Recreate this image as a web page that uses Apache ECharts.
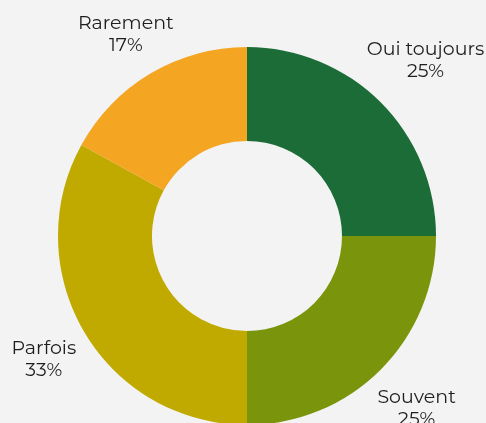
<!DOCTYPE html>
<html>
<head>
<meta charset="utf-8">
<script src="https://cdn.jsdelivr.net/npm/echarts@6/dist/echarts.min.js"></script>
<style>
  html, body { margin: 0; padding: 0; background: #f3f3f3; }
  #chart { width: 486px; height: 423px; }
</style>
</head>
<body>
<div id="chart"></div>
<script>
const categories = ['Oui toujours', 'Souvent', 'Parfois', 'Rarement'];
const values = [25, 25, 33, 17];
const colors = ['#1b6c37', '#7a940c', '#c0aa00', '#f4a521'];

const center = [247, 236];
const outerR = 189;
const labelGap = 8; // distance entre le bord du donut et le coin le plus proche du label
const fontFamily = 'Montserrat, "Noto Sans", sans-serif';
const fontSize = 19;
const lineHeight = 22;
const total = values.reduce((a, b) => a + b, 0);

// angle du milieu de chaque part, depuis midi, sens horaire
const midAngles = [];
let acc = 0;
values.forEach(v => {
  midAngles.push((acc + v / 2) / total * Math.PI * 2);
  acc += v;
});

// largeur réelle du texte (le label a une largeur fixe pour éviter la troncature)
const ctx = document.createElement('canvas').getContext('2d');
ctx.font = fontSize + 'px ' + fontFamily;
const textWidth = txt => Math.max(...txt.split('\n').map(l => ctx.measureText(l).width));

const chart = echarts.init(document.getElementById('chart'));

chart.setOption({
  backgroundColor: '#f3f3f3',
  series: [
    {
      type: 'pie',
      center: center,
      radius: [95, outerR],
      startAngle: 90,
      clockwise: true,
      percentPrecision: 0,
      data: categories.map((name, i) => ({
        name: name,
        value: values[i],
        itemStyle: { color: colors[i] }
      })),
      label: {
        show: true,
        position: 'outside',
        formatter: '{b}\n{d}%',
        fontFamily: fontFamily,
        fontSize: fontSize,
        lineHeight: lineHeight,
        width: 200,
        overflow: 'none',
        color: '#1e1e1e'
      },
      labelLine: { show: false },
      labelLayout: function (params) {
        const a = midAngles[params.dataIndex];
        const ux = Math.sin(a), uy = -Math.cos(a);
        const hw = textWidth(params.text) / 2;
        const hh = params.labelRect.height / 2;
        const D = outerR + labelGap;
        // le coin du label le plus proche du centre est à D
        const b = Math.abs(ux) * hw + Math.abs(uy) * hh;
        const c = hw * hw + hh * hh - D * D;
        const r = b + Math.sqrt(b * b - c);
        return {
          x: center[0] + ux * r,
          y: center[1] + uy * r + 3,
          align: 'center',
          verticalAlign: 'middle'
        };
      },
      emphasis: { disabled: true }
    }
  ]
});

window.addEventListener('resize', () => chart.resize());
</script>
</body>
</html>
